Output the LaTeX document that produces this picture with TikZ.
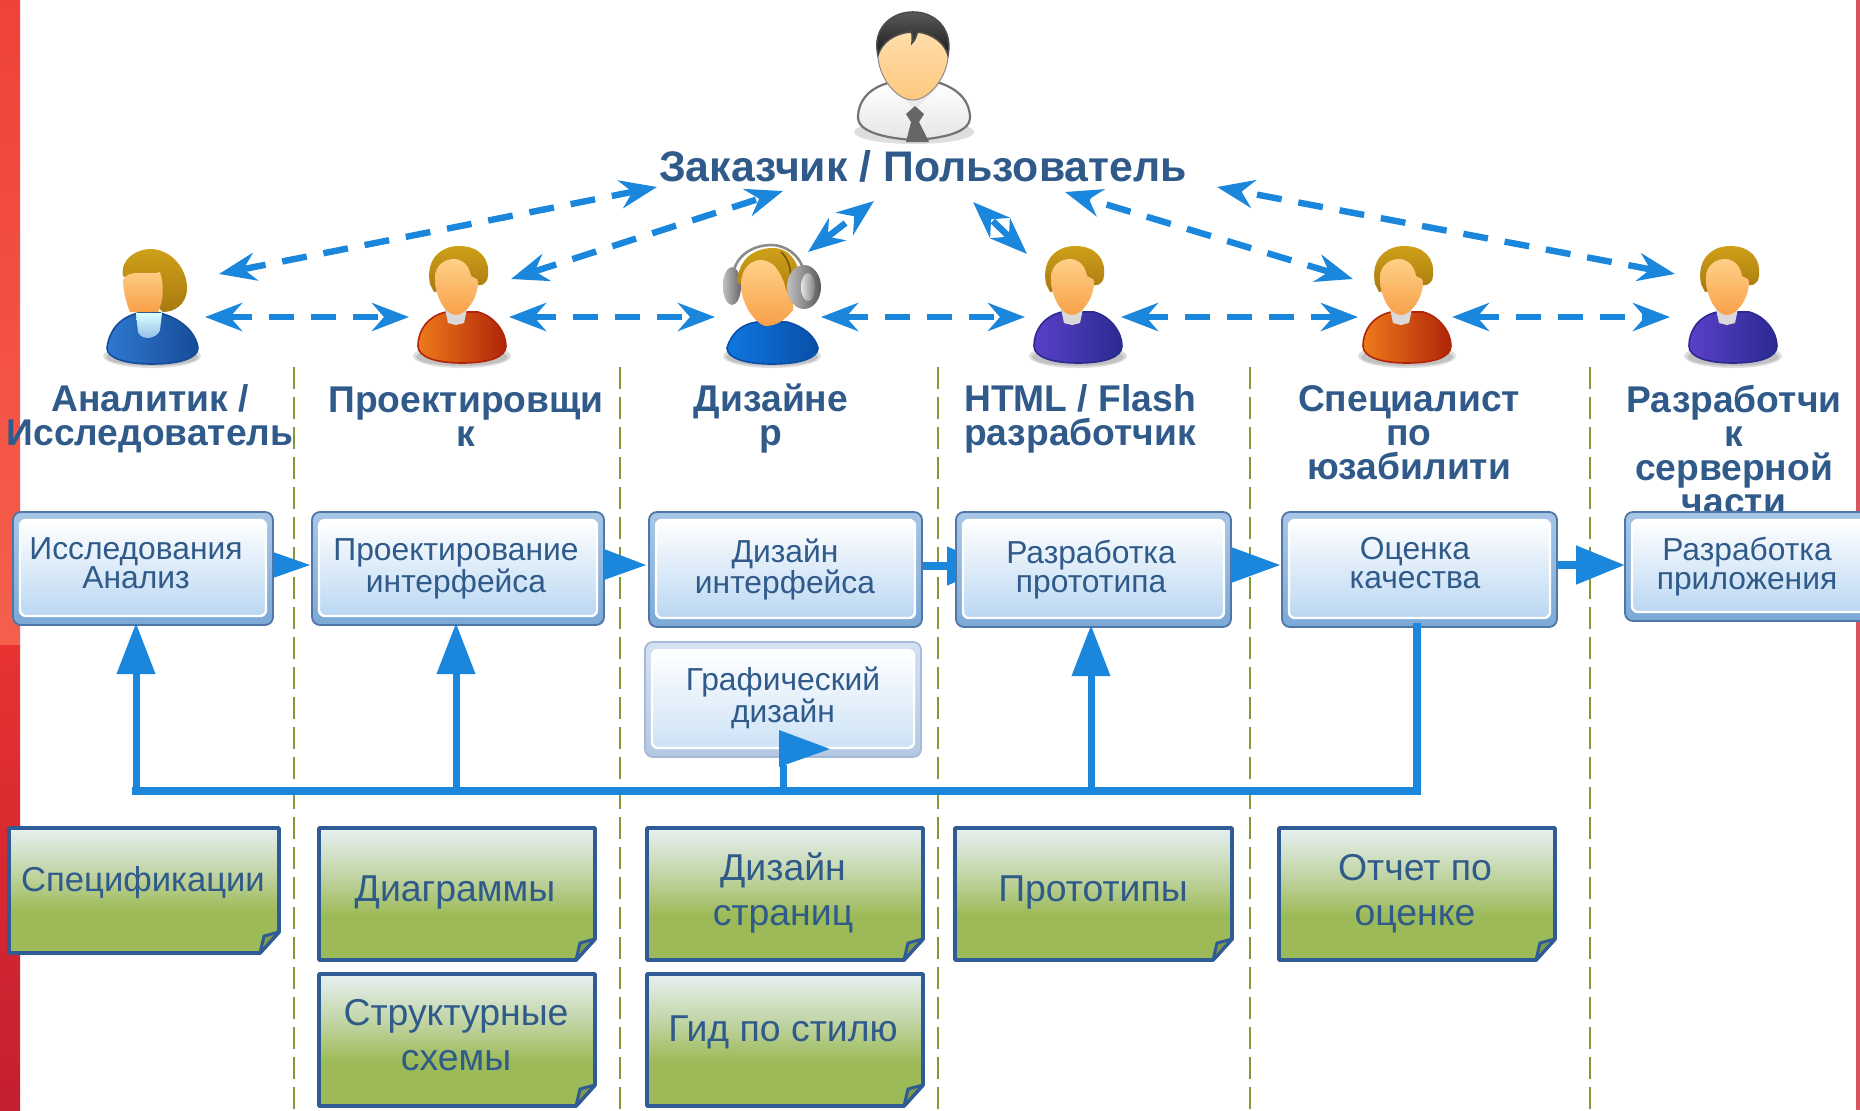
\documentclass[tikz,border=0pt]{standalone}
\usepackage{fontspec}
\setmainfont{Liberation Sans}
\usetikzlibrary{arrows.meta,calc}
\definecolor{txt}{HTML}{2F5A8A}
\definecolor{flow}{HTML}{1A86DC}
\definecolor{olive}{HTML}{7F9A3A}
\definecolor{noteline}{HTML}{2F5C96}
\definecolor{gA}{HTML}{9CBB58}
\definecolor{gB}{HTML}{BFD3A0}
\definecolor{gC}{HTML}{E6F0F2}
\definecolor{hairA}{HTML}{CFA018}
\definecolor{hairB}{HTML}{A87A10}
\definecolor{faceA}{HTML}{FFD088}
\definecolor{faceB}{HTML}{F8A048}
\definecolor{boxD}{HTML}{4F76A6}
\definecolor{boxT}{HTML}{A8C6E6}
\definecolor{boxB}{HTML}{7BA9D6}
\definecolor{boxI}{HTML}{BAD7F2}
\definecolor{graD}{HTML}{A4BAD8}
\definecolor{graT}{HTML}{D4E2F2}
\definecolor{graB}{HTML}{B4C8E2}
\definecolor{graI}{HTML}{CCE2F6}
\definecolor{foldc}{HTML}{7F9A50}
\definecolor{redA}{HTML}{F0423A}
\definecolor{redB}{HTML}{F55F4C}
\definecolor{redC}{HTML}{E83232}
\definecolor{redD}{HTML}{C41F30}
\definecolor{redE}{HTML}{D8555F}
\definecolor{orL}{HTML}{EE7A1C}
\definecolor{orD}{HTML}{B02408}
\definecolor{vioL}{HTML}{5A40C8}
\definecolor{vioD}{HTML}{2A2A90}
\definecolor{bluL}{HTML}{2E78D0}
\definecolor{bluD}{HTML}{164C98}
\definecolor{bl3L}{HTML}{0E78E0}
\definecolor{bl3D}{HTML}{0A4EA8}
\pgfdeclareverticalshading{noteshade}{100bp}{color(0bp)=(gA); color(25bp)=(gA); color(42bp)=(gA); color(56bp)=(gB); color(75bp)=(gC); color(100bp)=(gC)}
\tikzset{
  rolelabel/.style={text=txt,align=center,inner sep=0pt,font=\fontsize{18.6}{17}\selectfont\bfseries},
  boxlabel/.style={text=txt,align=center,inner sep=0pt,font=\fontsize{15.9}{14.5}\selectfont},
  notelabel/.style={text=txt,align=center,inner sep=0pt,font=\fontsize{18.7}{22.5}\selectfont},
  procbox/.style={draw=boxD,line width=.9pt,rounded corners=4pt,inner sep=0pt,outer sep=0pt,top color=boxT,bottom color=boxB},
  grabox/.style={draw=graD,line width=.9pt,rounded corners=4pt,inner sep=0pt,outer sep=0pt,top color=graT,bottom color=graB},
  procboxin/.style={draw=white,line width=1.2pt,rounded corners=3pt,top color=white,bottom color=boxI},
  graboxin/.style={draw=white,line width=1.2pt,rounded corners=3pt,top color=white,bottom color=graI},
  swim/.style={draw=olive,line width=1.2pt,dash pattern=on 11pt off 4pt},
  dbl/.style={draw=flow,line width=3.2pt,dash pattern=on 12.5pt off 8.5pt,
    {Stealth[length=18.5pt,width=14pt,inset=6pt]}-{Stealth[length=18.5pt,width=14pt,inset=6pt]}},
  bus/.style={draw=flow,line width=3.6pt},
  up/.style={bus,line width=3.5pt,shorten >=-1pt,-{Triangle[length=25.5pt,width=18.5pt]}},
  note/.style={draw=noteline,line width=1.9pt,shading=noteshade,line join=round},
  fold/.style={draw=noteline,line width=1.5pt,fill=foldc,line join=round},
  softshadow/.style={fill=black,opacity=.13},
}
% process box: name, x0, y0, x1, y1, text x, text y, text, outer style
\newcommand{\procb}[9]{%
  \node[#9,minimum width={(#4-#2)*0.5pt},minimum height={(#5-#3)*0.5pt}] (#1) at ({(#2+#4)/2},{(#3+#5)/2}) {};
  \path[#9in] (#2+7,#3+8) rectangle (#4-7,#5-9);
  \node[boxlabel] (#1t) at (#6,#7) {#8};
}
% note: name, x0, y0, x1, y1, text x, text y, text
\newcommand{\noteb}[8]{%
  \path[note] (#2+2,#3+2) -- (#4-2,#3+2) -- (#4-2,#5-23) -- (#4-21,#5-2) -- (#2+2,#5-2) -- cycle;
  \path[fold] (#4-2,#5-23) -- (#4-17,#5-19) -- (#4-21,#5-2) -- cycle;
  \node[notelabel] (#1) at (#6,#7) {#8};
}
% standard male user: origin x, y, light, dark
\newcommand{\manuser}[4]{%
  \begin{scope}[shift={(#1,#2)}]
    \path[softshadow] (58,116) ellipse (49 and 12);
    \path[softshadow] (58,117) ellipse (46 and 9);
    \path[draw=#4,line width=.8pt,left color=#3,right color=#4]
      (14,106) .. controls (14,90) and (24,76) .. (42,72) -- (74,72) .. controls (90,76) and (102,92) .. (102,106)
      .. controls (102,117) and (85,123) .. (58,123) .. controls (32,123) and (14,117) .. (14,106) -- cycle;
    \fill[black!15] (41,69) -- (63,69) -- (60,83) -- (52,85) -- (44,83) -- cycle;
    \path[top color=hairA,bottom color=hairB]
      (26,44) .. controls (21,18) and (38,6) .. (55,6) .. controls (75,6) and (86,18) .. (84,36)
      .. controls (83,45) and (76,47) .. (70,44) -- (30,52) -- cycle;
    \path[top color=faceA,bottom color=faceB]
      (31,38) .. controls (31,24) and (42,19) .. (50,19) .. controls (60,19) and (66,28) .. (67,36)
      .. controls (70,38) and (74,38) .. (74,42) .. controls (74,58) and (62,75) .. (52,75)
      .. controls (42,75) and (31,58) .. (31,38) -- cycle;
  \end{scope}}
\begin{document}
\begin{tikzpicture}[x=0.5pt,y=-0.5pt]
\useasboundingbox (0,0) rectangle (1860,1110);
\fill[white] (0,0) rectangle (1860,1110);
% side bands
\path[top color=redA,bottom color=redB] (0,0) rectangle (20,645);
\path[top color=redC,bottom color=redD] (0,645) rectangle (20,1110);
\fill[redE] (1856,0) rectangle (1860,1110);
% swimlanes
\coordinate (lane1) at (294,367);\coordinate (lane2) at (620,367);\coordinate (lane3) at (938,367);\coordinate (lane4) at (1250,367);\coordinate (lane5) at (1590,367);
\coordinate (laneEnd) at (0,1110);
\foreach \l in {lane1,lane2,lane3,lane4,lane5} \draw[swim] (\l) -- (\l |- laneEnd);
% client
\begin{scope}[shift={(840,0)}]
  \path[softshadow] (74,132) ellipse (60 and 12);
  \path[draw=black!55,line width=1.1pt,top color=white,bottom color=black!10]
    (18,118) .. controls (18,100) and (30,88) .. (48,83) -- (100,83) .. controls (120,90) and (130,102) .. (130,118)
    .. controls (130,130) and (110,138) .. (74,140) .. controls (40,138) and (18,130) .. (18,118) -- cycle;
  \fill[black!8] (50,85) -- (75,110) -- (100,85) -- cycle;
  \path[draw=black!45,line width=.5pt,top color=faceA!60!white,bottom color=faceA!85!faceB] (38,55) .. controls (38,30) and (55,14) .. (73,14) .. controls (92,14) and (108,30) .. (108,55)
    .. controls (108,75) and (90,100) .. (73,100) .. controls (55,100) and (38,75) .. (38,55) -- cycle;
  \path[draw=black!70,line width=.8pt,top color=black!65,bottom color=black!90]
    (38,55) .. controls (32,30) and (50,12) .. (73,12) .. controls (96,12) and (113,30) .. (108,55)
    .. controls (104,42) and (92,34) .. (78,32) .. controls (76,34) and (76,40) .. (72,43) .. controls (72,38) and (73,34) .. (71,32)
    .. controls (55,33) and (42,42) .. (38,55) -- cycle;
  \fill[black!60] (75,106) -- (84,114) -- (79,122) -- (89,142) -- (66,142) -- (71,122) -- (66,114) -- cycle;
\end{scope}
\node[rolelabel,font=\fontsize{21.4}{20}\selectfont\bfseries] (client) at (923,166) {Заказчик / Пользователь};
% users
\begin{scope}[shift={(100,240)}]
  \path[softshadow] (52,116) ellipse (49 and 12);
  \path[softshadow] (52,117) ellipse (46 and 9);
  \path[top color=hairA,bottom color=hairB] (23,36) .. controls (20,18) and (38,9) .. (50,9) .. controls (72,9) and (88,30) .. (87,50) .. controls (86,64) and (75,72) .. (63,72) -- (30,40) -- cycle;
  \path[draw=bluD,line width=.8pt,left color=bluL,right color=bluD]
    (7,108) .. controls (9,92) and (18,78) .. (38,73) -- (60,73) .. controls (80,78) and (96,92) .. (98,108)
    .. controls (98,118) and (80,124) .. (52,124) .. controls (25,124) and (7,118) .. (7,108) -- cycle;
  \path[top color=cyan!15!white,bottom color=bluL!55!white] (36,73) -- (62,73) -- (60,90) .. controls (58,98) and (42,102) .. (38,92) -- cycle;
  \path[top color=faceA,bottom color=faceB] (23,40) .. controls (28,28) and (50,36) .. (60,32) .. controls (64,44) and (64,60) .. (58,72) -- (30,72) .. controls (26,62) and (23,50) .. (23,40) -- cycle;
\end{scope}
\manuser{404}{240}{orL}{orD}
\begin{scope}[shift={(715,240)}]
  \path[softshadow] (57,116) ellipse (49 and 12);
  \path[softshadow] (57,117) ellipse (46 and 9);
  \path[left color=black!25,right color=black!60] (17,46) ellipse (9 and 19);
  \path[draw=bl3D,line width=.8pt,left color=bl3L,right color=bl3D]
    (12,108) .. controls (16,94) and (26,84) .. (42,82) -- (72,82) .. controls (88,86) and (100,96) .. (103,108)
    .. controls (103,118) and (85,124) .. (57,124) .. controls (30,124) and (12,118) .. (12,108) -- cycle;
  \path[top color=hairA,bottom color=hairB] (22,42) .. controls (24,16) and (42,8) .. (58,8) .. controls (76,8) and (86,25) .. (85,45) -- (80,62) -- (30,48) -- cycle;
  \draw[black!45,line width=1.3pt] (19,30) .. controls (24,12) and (42,5) .. (56,5) .. controls (72,5) and (84,16) .. (88,28);
  \draw[hairB!70!black,line width=.8pt] (66,12) .. controls (73,18) and (76,28) .. (76,40);
  \path[top color=faceA,bottom color=faceB] (26,45) .. controls (26,28) and (36,20) .. (46,20) .. controls (58,20) and (66,32) .. (70,46)
    .. controls (72,56) and (80,62) .. (78,70) .. controls (70,80) and (62,86) .. (50,86) .. controls (38,82) and (26,62) .. (26,45) -- cycle;
  \path[left color=black!25,right color=black!65] (89,47) ellipse (17 and 22);
  \path[left color=black!10,right color=black!50] (93,47) ellipse (7 and 14);
\end{scope}
\manuser{1020}{240}{vioL}{vioD}
\manuser{1349}{240}{orL}{orD}
\manuser{1675}{240}{vioL}{vioD}
% role labels
\node[rolelabel] (r1) at (150,419) {Аналитик /\\Исследователь};
\node[rolelabel] (r2) at (466,417) {Проектировщи\\к};
\node[rolelabel] (r3) at (771,419) {Дизайне\\р};
\node[rolelabel] (r4) at (1080,419) {HTML / Flash\\разработчик};
\node[rolelabel] (r5) at (1409,433) {Специалист\\по\\юзабилити};
\node[rolelabel] (r6) at (1734,450) {Разработчи\\к\\серверной\\части};
% dashed connectors between people
\coordinate (u1a) at (205,317);\coordinate (u2a) at (409,317);
\coordinate (u2b) at (509,317);\coordinate (u3a) at (715,317);
\coordinate (u3b) at (821,317);\coordinate (u4a) at (1025,317);
\coordinate (u4b) at (1121,317);\coordinate (u5a) at (1358,317);
\coordinate (u5b) at (1452,317);\coordinate (u6a) at (1670,317);
\draw[dbl] (u1a) -- (u2a);\draw[dbl] (u2b) -- (u3a);\draw[dbl] (u3b) -- (u4a);\draw[dbl] (u4b) -- (u5a);\draw[dbl] (u5b) -- (u6a);
\coordinate (c1) at (657,187);\coordinate (d1) at (219,274);
\coordinate (c2) at (783,191);\coordinate (d2) at (511,279);
\coordinate (c3) at (874,201);\coordinate (d3) at (808,252);
\coordinate (c4) at (973,202);\coordinate (d4) at (1027,254);
\coordinate (c5) at (1065,192);\coordinate (d5) at (1353,279);
\coordinate (c6) at (1217,187);\coordinate (d6) at (1675,274);
\foreach \i in {1,...,6} \draw[dbl] (d\i) -- (c\i);
% process boxes and the arrows between them
\procb{b1}{13}{512}{273}{625}{136}{563}{Исследования\\Анализ}{procbox}
\procb{b2}{312}{512}{604}{625}{456}{569}{Проектирование\\интерфейса}{procbox}
\procb{g}{645}{642}{921}{757}{783}{698}{Графический\\дизайн}{grabox}
\coordinate (f3a) at (922,566);\coordinate (f3b) at (992,566);
\coordinate (f5a) at (1557,565);\coordinate (f5b) at (1625,565);
\draw[draw=flow,line width=4pt,-{Triangle[length=22.5pt,width=18.5pt]}] (f3a) -- (f3b);
\draw[draw=flow,line width=4pt,-{Triangle[length=24.5pt,width=18.5pt]}] (f5a) -- (f5b);
\procb{b3}{649}{512}{922}{627}{785}{569.5}{Дизайн\\интерфейса}{procbox}
\procb{b4}{956}{512}{1231}{627}{1091}{569.5}{Разработка\\прототипа}{procbox}
\procb{b5}{1282}{512}{1557}{627}{1415}{563}{Оценка\\качества}{procbox}
\procb{b6}{1625}{512}{1885}{621}{1747}{567}{Разработка\\приложения}{procbox}
\fill[flow] (273,552) -- (310,565) -- (273,578) -- cycle;
\fill[flow] (604,549) -- (646,565) -- (604,580) -- cycle;
\fill[flow] (1231,547) -- (1280,565) -- (1231,583) -- cycle;
% bus
\coordinate (busL) at (136,791);\coordinate (busR) at (1417,791);
\coordinate (bus2) at (456,791);\coordinate (busG) at (783,791);\coordinate (bus4) at (1091,791);
\coordinate (busGt) at (783,765);
\draw[bus,line cap=rect] (busL) -- (busR);
\draw[bus,line cap=rect] (busR) -- (busR |- b5.south);
\draw[up] (busL) -- (busL |- b1.south);
\draw[up] (bus2) -- (bus2 |- b2.south);
\draw[up] (bus4) -- (bus4 |- b4.south);
\draw[bus,line width=3.5pt] (busG) -- (busGt);
\fill[flow] (779,730) -- (830,749) -- (779,767) -- cycle;
% notes
\noteb{n1}{7}{826}{281}{955}{143}{883}{\fontsize{17.3}{22.5}\selectfont Спецификации}
\noteb{n2}{317}{826}{597}{962}{455}{892.5}{Диаграммы}
\noteb{n3}{645}{826}{925}{962}{783}{892.5}{Дизайн\\страниц}
\noteb{n2b}{317}{972}{597}{1108}{456}{1035}{Структурные\\схемы}
\noteb{n3b}{645}{972}{925}{1108}{783}{1032}{Гид по стилю}
\noteb{n4}{953}{826}{1234}{962}{1093}{892.5}{Прототипы}
\noteb{n5}{1277}{826}{1557}{962}{1415}{893.5}{Отчет по\\оценке}
\end{tikzpicture}
\end{document}
